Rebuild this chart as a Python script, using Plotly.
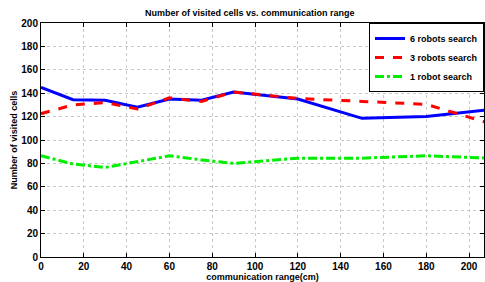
import plotly.graph_objects as go

x_range = [0, 15, 30, 45, 60, 75, 90, 120, 150, 180, 210]
robots6 = [145, 134.5, 134, 128, 135, 134, 141, 135, 118.5, 120, 126]
robots3 = [122.5, 130, 132, 126.5, 136, 133, 141, 135.5, 133, 130.5, 114]
robots1 = [86.5, 79.5, 76.5, 81.5, 86.5, 83, 80, 84.5, 84.5, 86.5, 84.5]

x_ticks = list(range(0, 201, 20))
y_ticks = list(range(0, 201, 20))

fam = "Liberation Sans, Arial, sans-serif"

fig = go.Figure()
fig.add_trace(go.Scatter(x=x_range, y=robots6, mode="lines", name="6 robots search",
                         line=dict(color="#0000ff", width=3, dash="solid")))
fig.add_trace(go.Scatter(x=x_range, y=robots3, mode="lines", name="3 robots search",
                         line=dict(color="#ff0000", width=3, dash="dash")))
fig.add_trace(go.Scatter(x=x_range, y=robots1, mode="lines", name="1 robot search",
                         line=dict(color="#00ee00", width=3, dash="dashdot")))

axis_common = dict(showline=True, linecolor="black", linewidth=1, mirror="ticks",
                   ticks="inside", ticklen=4, tickcolor="black", automargin=False,
                   showgrid=True, gridcolor="#c8c8c8", griddash="dot", gridwidth=1,
                   zeroline=False,
                   tickfont=dict(family=fam, size=10, color="black", weight="bold"))

fig.update_layout(
    width=485, height=282,
    margin=dict(l=41, r=1, t=23, b=25, autoexpand=False),
    paper_bgcolor="white", plot_bgcolor="white",
    font=dict(family=fam, size=9, color="black"),
    title=dict(text="Number of visited cells vs. communication range", x=0.515, xanchor="center",
               y=0.955, yanchor="middle", font=dict(size=9, weight="bold")),
    xaxis=dict(range=[0, 207], tickvals=x_ticks,
               title=dict(text="communication range(cm)", standoff=0, font=dict(size=9, weight="bold")),
               **axis_common),
    yaxis=dict(range=[0, 200], tickvals=y_ticks,
               title=dict(text="Number of visited cells", standoff=2, font=dict(size=9, weight="bold")),
               **axis_common),
    legend=dict(x=1, y=1, xanchor="right", yanchor="top", bgcolor="white", bordercolor="black", borderwidth=1,
                font=dict(size=9, weight="bold"), tracegroupgap=0),
    showlegend=True,
)

fig.write_html("out.html", post_script="document.body.style.margin='0';",
               config={"displayModeBar": False})
